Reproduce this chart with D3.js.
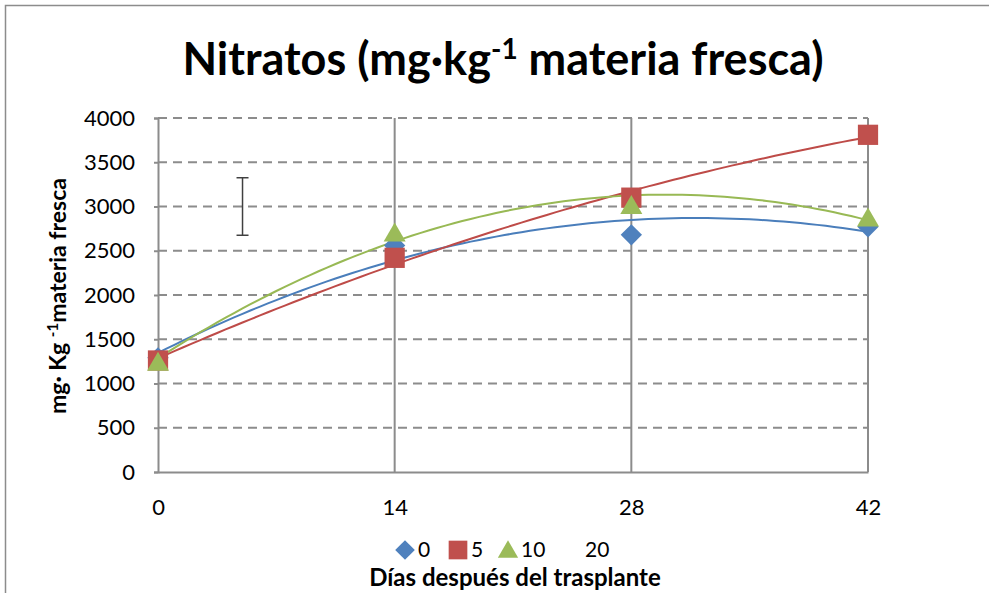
<!DOCTYPE html>
<html>
<head>
<meta charset="utf-8">
<title>Nitratos</title>
<style>
body { margin: 0; background: #fff; font-family: Lato, "Open Sans", sans-serif; }
.grid line { stroke: #8c8c8c; stroke-width: 2; stroke-dasharray: 9 6; }
.vgrid line { stroke: #8c8c8c; stroke-width: 2; }
.tick text { font-size: 22px; fill: #000; font-family: Lato, sans-serif; }
</style>
</head>
<body>
<div id="vis"></div>
<script src="https://d3js.org/d3.v7.min.js"></script>
<script>
// data
var days = [0, 14, 28, 42];
var serie0 = [1290, 2560, 2680, 2770];
var serie5 = [1260, 2420, 3100, 3810];
var serie10 = [1250, 2710, 3020, 2880];
// series "20": no marker, only the error bar
var serie20 = {day: 5, value: 3000, err: 325};
var yTicks = [0, 500, 1000, 1500, 2000, 2500, 3000, 3500, 4000];

var series = [
  {name: "0", values: serie0, color: "#4F81BD", line: "#4A7EBB", shape: "diamond"},
  {name: "5", values: serie5, color: "#C0504D", line: "#BE4B48", shape: "square"},
  {name: "10", values: serie10, color: "#9BBB59", line: "#98B954", shape: "triangle"}
];

var W = 989, H = 593;
var margin = {top: 118, right: 121, bottom: 121, left: 158},
    width = W - margin.left - margin.right,
    height = H - margin.top - margin.bottom;

var svg = d3.select("#vis").append("svg")
    .attr("width", W)
    .attr("height", H);

// outer chart border
svg.append("path")
    .attr("d", "M5.5," + H + "V5.5H" + W)
    .attr("fill", "none")
    .attr("stroke", "#8c8c8c")
    .attr("stroke-width", 1.5);

var g = svg.append("g")
    .attr("transform", "translate(" + margin.left + "," + margin.top + ")");

var x = d3.scaleLinear().domain([0, 42]).range([0, width]);
var y = d3.scaleLinear().domain([0, 4000]).range([height, 0]);

// horizontal dashed grid
g.append("g")
    .attr("class", "grid")
  .selectAll("line")
  .data(yTicks.filter(function(d) { return d > 0; }))
  .enter().append("line")
    .attr("x1", 0)
    .attr("x2", width)
    .attr("y1", function(d) { return y(d); })
    .attr("y2", function(d) { return y(d); });

// vertical solid lines
g.append("g")
    .attr("class", "vgrid")
  .selectAll("line")
  .data(days.filter(function(d) { return d > 0; }))
  .enter().append("line")
    .attr("x1", function(d) { return x(d); })
    .attr("x2", function(d) { return x(d); })
    .attr("y1", 0)
    .attr("y2", height);

// axes
var yAxis = d3.axisLeft(y).tickValues(yTicks).tickSize(4).tickPadding(19).tickFormat(d3.format("d"));
var xAxis = d3.axisBottom(x).tickValues(days).tickSize(0).tickPadding(27).tickFormat(d3.format("d"));

var gy = g.append("g").call(yAxis);
gy.select(".domain").attr("stroke", "#8c8c8c").attr("stroke-width", 2);
gy.selectAll(".tick line").attr("stroke", "#8c8c8c").attr("stroke-width", 2);

var gx = g.append("g").attr("transform", "translate(0," + height + ")").call(xAxis);
gx.select(".domain").attr("stroke", "#8c8c8c").attr("stroke-width", 2);

// quadratic least squares trendline (as the spreadsheet does)
function polyFit(xs, ys) {
  var n = xs.length, s = [0, 0, 0, 0, 0], t = [0, 0, 0];
  for (var i = 0; i < n; i++) {
    var xi = 1;
    for (var k = 0; k < 5; k++) { s[k] += xi; if (k < 3) t[k] += xi * ys[i]; xi *= xs[i]; }
  }
  var A = [[s[0], s[1], s[2], t[0]], [s[1], s[2], s[3], t[1]], [s[2], s[3], s[4], t[2]]];
  for (var c = 0; c < 3; c++) {
    for (var r = c + 1; r < 3; r++) {
      var f = A[r][c] / A[c][c];
      for (var j = c; j < 4; j++) A[r][j] -= f * A[c][j];
    }
  }
  var b = [0, 0, 0];
  for (var r2 = 2; r2 >= 0; r2--) {
    var sum = A[r2][3];
    for (var j2 = r2 + 1; j2 < 3; j2++) sum -= A[r2][j2] * b[j2];
    b[r2] = sum / A[r2][r2];
  }
  return function(v) { return b[0] + b[1] * v + b[2] * v * v; };
}

var line = d3.line()
    .x(function(d) { return x(d[0]); })
    .y(function(d) { return y(d[1]); });

var sampleX = d3.range(0, 42.001, 0.5);

series.forEach(function(s) {
  var f = polyFit(days, s.values);
  g.append("path")
    .datum(sampleX.map(function(v) { return [v, f(v)]; }))
    .attr("fill", "none")
    .attr("stroke", s.line)
    .attr("stroke-width", 2)
    .attr("d", line);
});

// error bar of series 20
var eb = g.append("g").attr("stroke", "#404040").attr("stroke-width", 1.5);
eb.append("line")
    .attr("x1", x(serie20.day)).attr("x2", x(serie20.day))
    .attr("y1", y(serie20.value + serie20.err)).attr("y2", y(serie20.value - serie20.err));
[serie20.value + serie20.err, serie20.value - serie20.err].forEach(function(v) {
  eb.append("line")
    .attr("x1", x(serie20.day) - 6).attr("x2", x(serie20.day) + 6)
    .attr("y1", y(v)).attr("y2", y(v));
});

function markerPath(shape, k) {
  if (shape === "diamond") return d3.symbol().type(d3.symbolDiamond2).size(290 * k)();
  if (shape === "square") return d3.symbol().type(d3.symbolSquare).size(410 * k)();
  return d3.symbol().type(d3.symbolTriangle).size(210 * k)();
}

series.forEach(function(s) {
  g.selectAll(".m" + s.name)
    .data(s.values)
    .enter().append("path")
      .attr("d", markerPath(s.shape, 1))
      .attr("transform", function(d, i) {
        var ty = s.shape === "triangle" ? y(d) + 3 : y(d);
        return "translate(" + x(days[i]) + "," + ty + ")";
      })
      .attr("fill", s.color);
});

// title
var title = svg.append("text")
    .attr("x", 503)
    .attr("y", 75)
    .attr("text-anchor", "middle")
    .style("font-size", "45px")
    .style("font-weight", "bold");
title.append("tspan").text("Nitratos (mg\u00b7kg");
title.append("tspan").attr("dy", -16).style("font-size", "28px").text("-1");
title.append("tspan").attr("dy", 16).text(" materia fresca)");

// y axis title
var ylab = svg.append("text")
    .attr("transform", "translate(66,296) rotate(-90)")
    .attr("text-anchor", "middle")
    .style("font-size", "23px")
    .style("font-weight", "bold");
ylab.append("tspan").text("mg\u00b7 Kg ");
ylab.append("tspan").attr("dy", -8).style("font-size", "15px").text("-1");
ylab.append("tspan").attr("dy", 8).text("materia fresca");

// legend
var legendItems = [
  {name: "0", color: "#4F81BD", shape: "diamond", x: 405},
  {name: "5", color: "#C0504D", shape: "square", x: 458},
  {name: "10", color: "#9BBB59", shape: "triangle", x: 508},
  {name: "20", color: null, shape: null, x: 572}
];
var legend = svg.append("g");
legendItems.forEach(function(it) {
  if (it.shape) {
    legend.append("path")
      .attr("d", markerPath(it.shape, 0.85))
      .attr("transform", "translate(" + it.x + "," + (it.shape === "triangle" ? 552 : 550) + ")")
      .attr("fill", it.color);
  }
  legend.append("text")
    .attr("x", it.x + 13)
    .attr("y", 557)
    .style("font-size", "21px")
    .text(it.name);
});

svg.append("text")
    .attr("x", 515)
    .attr("y", 586)
    .attr("text-anchor", "middle")
    .style("font-size", "24px")
    .style("font-weight", "bold")
    .text("D\u00edas despu\u00e9s del trasplante");
</script>
</body>
</html>
